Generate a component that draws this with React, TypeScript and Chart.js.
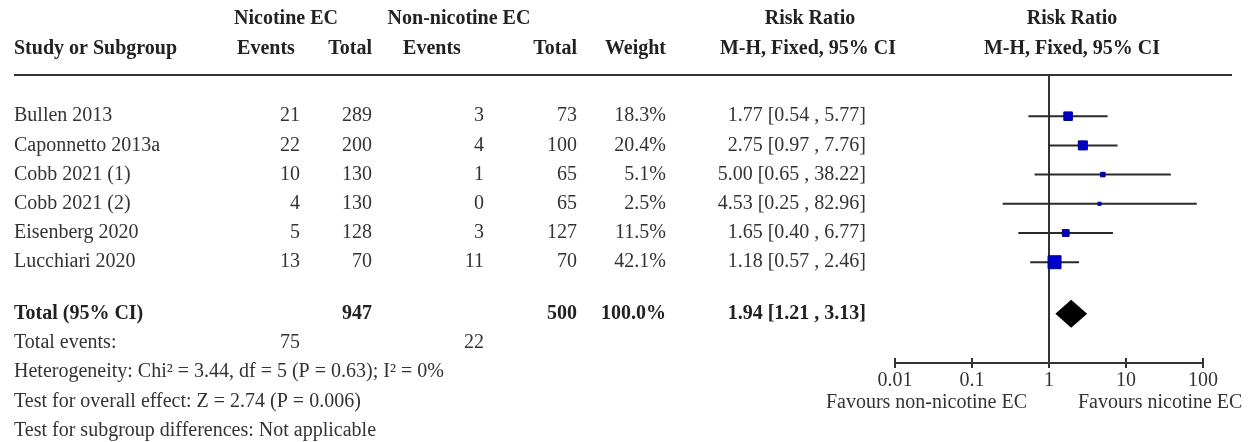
import { useEffect, useRef } from "react";
import { Chart, registerables } from "chart.js";

Chart.register(...registerables);

// Study-level data
const studies = ["Bullen 2013", "Caponnetto 2013a", "Cobb 2021 (1)", "Cobb 2021 (2)", "Eisenberg 2020", "Lucchiari 2020"];
const nicotineEvents = [21, 22, 10, 4, 5, 13];
const nicotineTotal = [289, 200, 130, 130, 128, 70];
const nonNicotineEvents = [3, 4, 1, 0, 3, 11];
const nonNicotineTotal = [73, 100, 65, 65, 127, 70];
const weights = [18.3, 20.4, 5.1, 2.5, 11.5, 42.1];
const riskRatio = [1.77, 2.75, 5.0, 4.53, 1.65, 1.18];
const ciLower = [0.54, 0.97, 0.65, 0.25, 0.4, 0.57];
const ciUpper = [5.77, 7.76, 38.22, 82.96, 6.77, 2.46];

// Pooled estimate
const pooledRR = 1.94;
const pooledLower = 1.21;
const pooledUpper = 3.13;
const pooledNicotineTotal = 947;
const pooledNonNicotineTotal = 500;
const pooledWeight = 100.0;
const totalNicotineEvents = 75;
const totalNonNicotineEvents = 22;

const axisTicks = [0.01, 0.1, 1, 10, 100];
const footnotes = [
  "Heterogeneity: Chi\u00B2 = 3.44, df = 5 (P = 0.63); I\u00B2 = 0%",
  "Test for overall effect: Z = 2.74 (P = 0.006)",
  "Test for subgroup differences: Not applicable",
];
const favoursLeft = "Favours non-nicotine EC";
const favoursRight = "Favours nicotine EC";

// Layout (row positions are in y-scale units, one unit per table row)
const HEADER_ROW_1 = -3.34;
const HEADER_ROW_2 = -2.31;
const TOTAL_ROW = 6.76;
const FOOT_ROW = 7.76;
const COL = { study: 14, nicEv: 300, nicTot: 372, nonEv: 484, nonTot: 577, weight: 666, rr: 866 };
const FONT_FAMILY = '"Liberation Serif", "Times New Roman", serif';
const FONT_SIZE = 20;
const TEXT = "#333";

const fmt2 = (v: number) => v.toFixed(2);
const ciText = (rr: number, lo: number, hi: number) => `${fmt2(rr)} [${fmt2(lo)} , ${fmt2(hi)}]`;

const forestPlugin = {
  id: "forestTable",
  beforeDatasetsDraw(chart: any) {
    const { ctx, chartArea } = chart;
    const x = chart.scales.x;
    const y = chart.scales.y;
    ctx.save();
    // line of no effect
    const x1 = x.getPixelForValue(1);
    ctx.strokeStyle = "#333";
    ctx.lineWidth = 2;
    ctx.beginPath();
    ctx.moveTo(x1, chartArea.top);
    ctx.lineTo(x1, chartArea.bottom);
    ctx.stroke();
    // confidence intervals
    ctx.strokeStyle = "#2a2a2a";
    ctx.lineWidth = 2;
    studies.forEach((_, i) => {
      const py = y.getPixelForValue(i);
      ctx.beginPath();
      ctx.moveTo(x.getPixelForValue(ciLower[i]), py);
      ctx.lineTo(x.getPixelForValue(ciUpper[i]), py);
      ctx.stroke();
    });
    // pooled diamond
    const dy = y.getPixelForValue(TOTAL_ROW);
    const half = 14;
    ctx.fillStyle = "#000";
    ctx.beginPath();
    ctx.moveTo(x.getPixelForValue(pooledLower), dy);
    ctx.lineTo(x.getPixelForValue(pooledRR), dy - half);
    ctx.lineTo(x.getPixelForValue(pooledUpper), dy);
    ctx.lineTo(x.getPixelForValue(pooledRR), dy + half);
    ctx.closePath();
    ctx.fill();
    ctx.restore();
  },
  afterDraw(chart: any) {
    const { ctx, chartArea } = chart;
    const x = chart.scales.x;
    const y = chart.scales.y;
    const text = (s: string, px: number, row: number, align: CanvasTextAlign, bold = false) => {
      ctx.font = `${bold ? "bold " : ""}${FONT_SIZE}px ${FONT_FAMILY}`;
      ctx.textAlign = align;
      ctx.textBaseline = "middle";
      ctx.fillStyle = bold ? "#222" : TEXT;
      ctx.fillText(s, px, y.getPixelForValue(row));
    };
    ctx.save();

    // column headers
    const xNoEffect = x.getPixelForValue(1);
    text("Nicotine EC", 286, HEADER_ROW_1, "center", true);
    text("Non-nicotine EC", 459, HEADER_ROW_1, "center", true);
    text("Risk Ratio", 810, HEADER_ROW_1, "center", true);
    text("Risk Ratio", xNoEffect + 23, HEADER_ROW_1, "center", true);
    text("Study or Subgroup", COL.study, HEADER_ROW_2, "left", true);
    text("Events", 266, HEADER_ROW_2, "center", true);
    text("Total", COL.nicTot, HEADER_ROW_2, "right", true);
    text("Events", 432, HEADER_ROW_2, "center", true);
    text("Total", COL.nonTot, HEADER_ROW_2, "right", true);
    text("Weight", COL.weight, HEADER_ROW_2, "right", true);
    text("M-H, Fixed, 95% CI", 808, HEADER_ROW_2, "center", true);
    text("M-H, Fixed, 95% CI", xNoEffect + 23, HEADER_ROW_2, "center", true);

    // rule under the headers
    ctx.strokeStyle = "#333";
    ctx.lineWidth = 2;
    ctx.beginPath();
    ctx.moveTo(COL.study, chartArea.top);
    ctx.lineTo(1232, chartArea.top);
    ctx.stroke();

    // study rows
    studies.forEach((name, i) => {
      text(name, COL.study, i, "left");
      text(String(nicotineEvents[i]), COL.nicEv, i, "right");
      text(String(nicotineTotal[i]), COL.nicTot, i, "right");
      text(String(nonNicotineEvents[i]), COL.nonEv, i, "right");
      text(String(nonNicotineTotal[i]), COL.nonTot, i, "right");
      text(`${weights[i].toFixed(1)}%`, COL.weight, i, "right");
      text(ciText(riskRatio[i], ciLower[i], ciUpper[i]), COL.rr, i, "right");
    });

    // pooled row
    text("Total (95% CI)", COL.study, TOTAL_ROW, "left", true);
    text(String(pooledNicotineTotal), COL.nicTot, TOTAL_ROW, "right", true);
    text(String(pooledNonNicotineTotal), COL.nonTot, TOTAL_ROW, "right", true);
    text(`${pooledWeight.toFixed(1)}%`, COL.weight, TOTAL_ROW, "right", true);
    text(ciText(pooledRR, pooledLower, pooledUpper), COL.rr, TOTAL_ROW, "right", true);

    // footer
    text("Total events:", COL.study, FOOT_ROW, "left");
    text(String(totalNicotineEvents), COL.nicEv, FOOT_ROW, "right");
    text(String(totalNonNicotineEvents), COL.nonEv, FOOT_ROW, "right");
    footnotes.forEach((s, k) => text(s, COL.study, FOOT_ROW + 1 + k, "left"));

    // x axis line with crossing tick marks
    const ay = chartArea.bottom;
    ctx.strokeStyle = "#333";
    ctx.lineWidth = 2;
    ctx.beginPath();
    ctx.moveTo(x.getPixelForValue(axisTicks[0]), ay);
    ctx.lineTo(x.getPixelForValue(axisTicks[axisTicks.length - 1]), ay);
    axisTicks.forEach((t) => {
      const tx = x.getPixelForValue(t);
      ctx.moveTo(tx, ay - 5);
      ctx.lineTo(tx, ay + 5);
    });
    ctx.stroke();

    // favours labels
    ctx.font = `${FONT_SIZE}px ${FONT_FAMILY}`;
    ctx.fillStyle = TEXT;
    ctx.textBaseline = "middle";
    ctx.textAlign = "right";
    ctx.fillText(favoursLeft, xNoEffect - 22, ay + 40);
    ctx.textAlign = "left";
    ctx.fillText(favoursRight, xNoEffect + 29, ay + 40);
    ctx.restore();
  },
};

export default function App() {
  const canvasRef = useRef<HTMLCanvasElement | null>(null);

  useEffect(() => {
    document.body.style.margin = "0";
    const canvas = canvasRef.current;
    if (!canvas) return;
    const chart = new Chart(canvas, {
      type: "scatter",
      data: {
        datasets: [
          {
            data: studies.map((_, i) => ({ x: riskRatio[i], y: i })),
            pointStyle: "rect",
            pointRadius: weights.map((w) => Math.sqrt(2 * w)),
            pointHoverRadius: weights.map((w) => Math.sqrt(2 * w)),
            backgroundColor: "#0000cc",
            borderColor: "#00008b",
            borderWidth: 1,
          },
        ],
      },
      options: {
        responsive: false,
        animation: false,
        devicePixelRatio: 1,
        events: [],
        layout: { padding: { left: 895, right: 45, top: 75, bottom: 43 } },
        plugins: { legend: { display: false }, tooltip: { enabled: false } },
        scales: {
          x: {
            type: "logarithmic",
            min: axisTicks[0],
            max: axisTicks[axisTicks.length - 1],
            afterBuildTicks: (scale: any) => {
              scale.ticks = axisTicks.map((v) => ({ value: v }));
            },
            grid: { display: false, drawTicks: false },
            border: { display: false },
            ticks: {
              padding: 6,
              autoSkip: false,
              maxRotation: 0,
              color: TEXT,
              font: { family: FONT_FAMILY, size: FONT_SIZE },
              callback: (v: any) => String(Number(v)),
            },
          },
          y: {
            type: "linear",
            display: false,
            min: -1.41,
            max: 8.45,
            reverse: true,
          },
        },
      },
      plugins: [forestPlugin],
    });
    return () => chart.destroy();
  }, []);

  return (
    <div style={{ position: "absolute", left: 0, top: 0, width: 1248, height: 442, background: "#fff" }}>
      <canvas ref={canvasRef} width={1248} height={442} />
    </div>
  );
}
